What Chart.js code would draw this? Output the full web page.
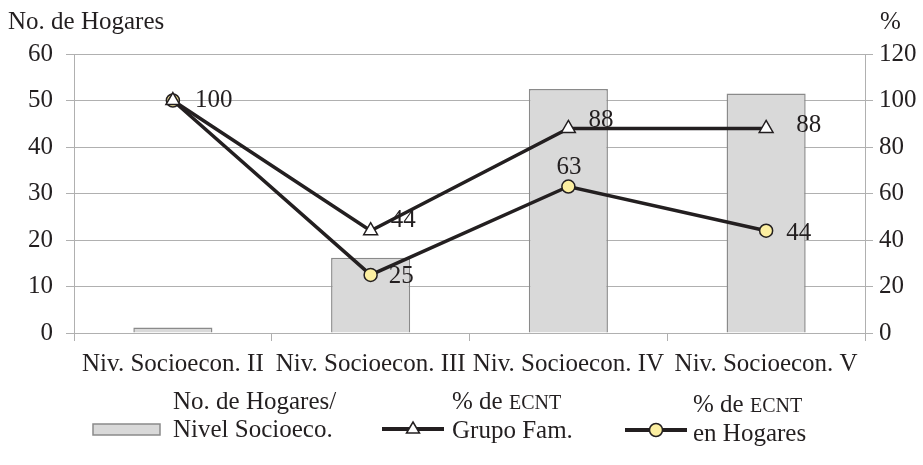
<!DOCTYPE html>
<html>
<head>
<meta charset="utf-8">
<script src="https://cdn.jsdelivr.net/npm/chart.js@4/dist/chart.umd.min.js"></script>
<style>
  html, body { margin: 0; padding: 0; background: #fff; }
  #wrap { position: relative; width: 923px; height: 465px; overflow: hidden;
          font-family: "Liberation Serif", "DejaVu Serif", serif; color: #231f20; }
  #chart { position: absolute; left: 0; top: 0; }
  .ttl { position: absolute; font-size: 25px; line-height: 25px; white-space: nowrap; }
  .lg-text { position: absolute; font-size: 25px; line-height: 28px; white-space: nowrap; }
  .sc { font-size: 20px; }
  .lg-sym { position: absolute; }
</style>
</head>
<body>
<div id="wrap">
  <canvas id="chart" width="923" height="465"></canvas>
  <div class="ttl" style="left:8px; top:8px;">No. de Hogares</div>
  <div class="ttl" style="left:880px; top:8px;">%</div>

  <svg class="lg-sym" style="left:90px; top:420px;" width="74" height="20">
    <rect x="3" y="4" width="67" height="11" fill="#d9d9d9" stroke="#8a8a8a" stroke-width="1.5"/>
  </svg>
  <div class="lg-text" style="left:173px; top:387px;">No. de Hogares/<br>Nivel Socioeco.</div>

  <svg class="lg-sym" style="left:380px; top:418px;" width="66" height="22">
    <line x1="2" y1="11" x2="64" y2="11" stroke="#231f20" stroke-width="4"/>
    <polygon points="33,4 39.5,15 26.5,15" fill="#fff" stroke="#231f20" stroke-width="1.5"/>
  </svg>
  <div class="lg-text" style="left:452px; top:387px;">% de <span class="sc">ECNT</span><br>Grupo Fam.</div>

  <svg class="lg-sym" style="left:623px; top:419px;" width="66" height="22">
    <line x1="2" y1="11" x2="64" y2="11" stroke="#231f20" stroke-width="4"/>
    <circle cx="33" cy="11" r="6.5" fill="#fcefa1" stroke="#231f20" stroke-width="1.5"/>
  </svg>
  <div class="lg-text" style="left:693px; top:390px;">% de <span class="sc">ECNT</span><br>en Hogares</div>
</div>

<script>
// Socioeconomic levels on the category axis
const categories = ['Niv. Socioecon. II', 'Niv. Socioecon. III', 'Niv. Socioecon. IV', 'Niv. Socioecon. V'];

// Number of households per level (left axis)
const households = [1.2, 16.2, 52.5, 51.5];

// % of chronic non-communicable disease (ECNT) in family group (right axis)
const pctFamilyGroup = [100, 44, 88, 88];

// % of ECNT in households (right axis)
const pctHouseholds = [100, 25, 63, 44];

// Axis ticks
const leftTicks = [0, 10, 20, 30, 40, 50, 60];
const rightTicks = [0, 20, 40, 60, 80, 100, 120];

const INK = '#231f20';
const GRID = '#b0b0b0';
const FONT = { family: '"Liberation Serif", "DejaVu Serif", serif', size: 25 };

// Draws value labels next to the line points with per-point offsets
const valueLabels = {
  id: 'valueLabels',
  afterDatasetsDraw(chart, args, opts) {
    const ctx = chart.ctx;
    ctx.save();
    ctx.font = `${FONT.size}px ${FONT.family}`;
    ctx.fillStyle = INK;
    ctx.textAlign = 'left';
    ctx.textBaseline = 'middle';
    chart.data.datasets.forEach((ds, di) => {
      const offsets = opts.offsets[ds.label];
      if (!offsets) return;
      const meta = chart.getDatasetMeta(di);
      meta.data.forEach((pt, i) => {
        const off = offsets[i];
        if (!off) return;
        ctx.fillText(String(ds.data[i]), pt.x + off[0], pt.y + off[1]);
      });
    });
    ctx.restore();
  }
};

new Chart(document.getElementById('chart'), {
  data: {
    labels: categories,
    datasets: [
      {
        type: 'line',
        label: 'Grupo Fam.',
        data: pctFamilyGroup,
        yAxisID: 'y1',
        borderColor: INK,
        borderWidth: 3.5,
        tension: 0,
        pointStyle: 'triangle',
        pointRadius: 8,
        pointBackgroundColor: '#ffffff',
        pointBorderColor: INK,
        pointBorderWidth: 1.5,
        order: 1
      },
      {
        type: 'line',
        label: 'Hogares',
        data: pctHouseholds,
        yAxisID: 'y1',
        borderColor: INK,
        borderWidth: 3.5,
        tension: 0,
        pointStyle: 'circle',
        pointRadius: 6.5,
        pointBackgroundColor: '#fcefa1',
        pointBorderColor: INK,
        pointBorderWidth: 1.5,
        order: 2
      },
      {
        type: 'bar',
        label: 'No. de Hogares',
        data: households,
        yAxisID: 'y',
        backgroundColor: '#d9d9d9',
        borderColor: '#8a8a8a',
        borderWidth: 1.5,
        barPercentage: 0.4,
        categoryPercentage: 1.0,
        order: 3
      }
    ]
  },
  options: {
    responsive: false,
    animation: false,
    devicePixelRatio: 1,
    layout: { padding: { top: 54, left: 0, right: 0, bottom: 0 } },
    plugins: {
      legend: { display: false },
      tooltip: { enabled: false },
      valueLabels: {
        offsets: {
          'Grupo Fam.': [[22, 0], [20, -10], [20, -8], [30, -3]],
          'Hogares': [null, [18, 2], [-12, -19], [20, 3]]
        }
      }
    },
    scales: {
      x: {
        type: 'category',
        offset: true,
        grid: { display: true, drawOnChartArea: false, drawTicks: true, tickLength: 8, color: GRID, offset: true },
        border: { display: true, color: GRID },
        ticks: { font: FONT, color: INK, autoSkip: false, maxRotation: 0, minRotation: 0, padding: 8 },
        afterFit(scale) { scale.height = 132; }
      },
      y: {
        position: 'left',
        min: 0, max: 60,
        afterBuildTicks(scale) { scale.ticks = leftTicks.map(v => ({ value: v })); },
        grid: { color: GRID, tickLength: 8 },
        border: { display: true, color: GRID },
        ticks: { font: FONT, color: INK, padding: 13 },
        afterFit(scale) { scale.width = 74; }
      },
      y1: {
        position: 'right',
        min: 0, max: 120,
        afterBuildTicks(scale) { scale.ticks = rightTicks.map(v => ({ value: v })); },
        grid: { drawOnChartArea: false, color: GRID, tickLength: 8 },
        border: { display: true, color: GRID },
        ticks: { font: FONT, color: INK, padding: 6 },
        afterFit(scale) { scale.width = 58; }
      }
    }
  },
  plugins: [valueLabels]
});
</script>
</body>
</html>
